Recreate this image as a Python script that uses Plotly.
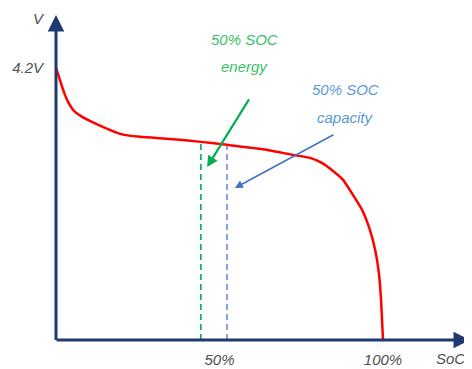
import plotly.graph_objects as go

# Discharge curve: state of charge (%) vs cell voltage (V)
soc = [0, 1.2, 2.4, 3.7, 5.5, 8.0, 11.0, 15.0, 19.6, 25.7, 34.9, 44.3, 52.3, 62.4, 72.5, 77.7, 81.3,
       84.7, 87.8, 90.8, 93.6, 95.7, 97.6, 98.8, 99.4, 100]
volt = [4.2, 4.125, 4.05, 3.9875, 3.931, 3.894, 3.8625, 3.825, 3.7875, 3.769, 3.756, 3.7375, 3.719, 3.694, 3.656,
        3.6375, 3.606, 3.556, 3.5, 3.406, 3.3125, 3.206, 3.0625, 2.906, 2.75, 2.5]

soc_energy = 44.3      # 50% SOC by energy
soc_capacity = 52.3    # 50% SOC by capacity
v_energy = 3.7375
v_capacity = 3.712

x_ticks = [50, 100]
x_ticktext = ["<i>50%</i>", "<i>100%</i>"]
y_ticks = [4.2]
y_ticktext = ["<i>4.2V</i>"]

X_MAX = 126.6
Y_MIN, Y_MAX = 2.5, 4.53
AXIS_COLOR = "#1F3A6E"
GREEN = "#00B050"
BLUE = "#4472C4"
TEXT_GRAY = "#505050"
FONT = "Liberation Sans"
FS = 15

fig = go.Figure()
fig.add_trace(go.Scatter(x=soc, y=volt, mode="lines", line=dict(color="#FF0000", width=2.5, shape="spline", smoothing=0.4),
                         hoverinfo="skip", showlegend=False, cliponaxis=False))
fig.add_trace(go.Scatter(x=[soc_energy, soc_energy], y=[Y_MIN, v_energy], mode="lines",
                         line=dict(color=GREEN, width=1.6, dash="6px,4px"), showlegend=False))
fig.add_trace(go.Scatter(x=[soc_capacity, soc_capacity], y=[Y_MIN, v_capacity], mode="lines",
                         line=dict(color="#6A8FD6", width=1.6, dash="6px,4px"), showlegend=False))

ann = []
# axes with arrowheads
ann.append(dict(x=X_MAX, y=Y_MIN, ax=-0.3, ay=Y_MIN, xref="x", yref="y", axref="x", ayref="y",
                showarrow=True, arrowhead=2, arrowsize=1.1, arrowwidth=3, arrowcolor=AXIS_COLOR, text=""))
ann.append(dict(x=0, y=Y_MAX, ax=0, ay=Y_MIN - 0.01, xref="x", yref="y", axref="x", ayref="y",
                showarrow=True, arrowhead=2, arrowsize=1.1, arrowwidth=3, arrowcolor=AXIS_COLOR, text=""))
# pointer arrows
ann.append(dict(x=46.2, y=3.58, ax=59.3, ay=4.0125, xref="x", yref="y", axref="x", ayref="y",
                showarrow=True, arrowhead=2, arrowsize=1, arrowwidth=2.2, arrowcolor=GREEN, text=""))
ann.append(dict(x=54.7, y=3.45, ax=85.3, ay=3.7875, xref="x", yref="y", axref="x", ayref="y",
                showarrow=True, arrowhead=2, arrowsize=1, arrowwidth=1.6, arrowcolor=BLUE, text=""))

# texts (paper coordinates, plot area = 414 x 325 px)
def px(x_page, y_page):
    return (x_page - 56) / 414.0, (340 - y_page) / 325.0

def text(xp, yp, s, color):
    x, y = px(xp, yp)
    ann.append(dict(x=x, y=y, xref="paper", yref="paper", showarrow=False, text="<i>%s</i>" % s,
                    font=dict(family=FONT, size=FS, color=color), xanchor="center", yanchor="middle"))

text(244, 39, "50% SOC", "#3CBF6A")
text(244, 66, "energy", "#3CBF6A")
text(345, 90, "50% SOC", "#5B9BD5")
text(345, 117, "capacity", "#5B9BD5")
text(39, 18, "V", TEXT_GRAY)
text(450, 358, "SoC", TEXT_GRAY)

# the page is shown with an 8px body margin, so the figure is offset by 8px
fig.update_layout(
    width=464, height=361,
    margin=dict(l=48, r=2, t=7, b=29, autoexpand=False),
    paper_bgcolor="white", plot_bgcolor="white",
    annotations=ann,
    xaxis=dict(range=[0, X_MAX], showgrid=False, zeroline=False, showline=False, automargin=False,
               tickvals=x_ticks, ticktext=x_ticktext, ticks="", ticklabelstandoff=9,
               tickfont=dict(family=FONT, size=FS, color=TEXT_GRAY), fixedrange=True),
    yaxis=dict(range=[Y_MIN, Y_MAX], showgrid=False, zeroline=False, showline=False, automargin=False,
               tickvals=y_ticks, ticktext=y_ticktext, ticks="", ticklabelstandoff=12,
               tickfont=dict(family=FONT, size=FS, color=TEXT_GRAY), fixedrange=True),
)

fig.write_html("out.html")
